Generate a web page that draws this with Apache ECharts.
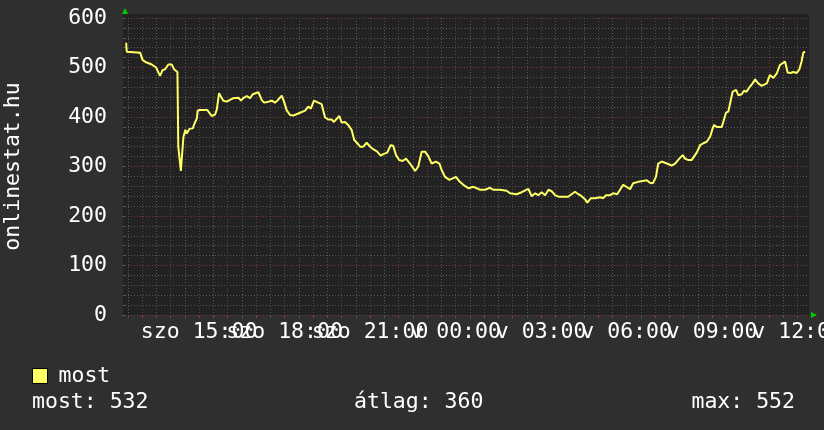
<!DOCTYPE html>
<html>
<head>
<meta charset="utf-8">
<script src="https://cdn.jsdelivr.net/npm/echarts@6/dist/echarts.min.js"></script>
<style>
html,body{margin:0;padding:0;background:#2f2f2f;}
#c{width:824px;height:430px;}
</style>
</head>
<body>
<div id="c"></div>
<script>
// hours since Saturday 00:00
const times = [
12.44,12.46,12.93,13.02,13.16,13.34,13.49,13.63,13.72,13.80,
13.92,14.04,14.13,14.24,14.27,14.33,14.36,14.42,14.45,14.52,
14.56,14.66,14.78,14.82,14.92,14.95,15.03,15.29,15.36,15.44,
15.56,15.62,15.70,15.77,15.85,15.97,16.20,16.38,16.47,16.55,
16.67,16.79,16.88,17.08,17.20,17.28,17.43,17.55,17.66,17.76,
17.90,17.98,18.07,18.19,18.31,18.48,18.54,18.72,18.83,18.92,
19.03,19.18,19.30,19.42,19.53,19.65,19.73,19.92,20.00,20.12,
20.23,20.35,20.44,20.55,20.65,20.76,20.88,21.00,21.11,21.25,
21.37,21.46,21.60,21.72,21.81,21.91,22.02,22.14,22.26,22.40,
22.58,22.69,22.81,22.93,23.04,23.16,23.31,23.43,23.51,23.63,
23.78,23.90,24.01,24.15,24.27,24.45,24.62,24.74,24.86,25.03,
25.21,25.32,25.56,25.79,25.91,26.14,26.32,26.55,26.67,26.79,
26.90,27.02,27.14,27.26,27.37,27.49,27.61,27.78,27.95,28.07,
28.19,28.31,28.42,28.54,28.62,28.75,28.89,29.07,29.18,29.28,
29.42,29.53,29.67,29.77,29.88,30.00,30.12,30.23,30.41,30.47,
30.71,30.82,30.92,31.03,31.11,31.23,31.41,31.58,31.70,31.85,
31.97,32.05,32.17,32.28,32.46,32.58,32.69,32.81,32.93,33.02,
33.07,33.16,33.34,33.49,33.57,33.72,33.84,33.92,34.04,34.12,
34.21,34.31,34.42,34.51,34.62,34.74,34.92,35.03,35.15,35.27,
35.38,35.56,35.65,35.75,35.85,35.97,36.06,36.14,36.20,36.26
];
const most = [
550,532,530,515,510,506,500,483,495,496,
506,506,496,491,340,337,291,291,360,374,
366,376,377,384,397,413,414,414,412,402,
405,415,448,447,433,431,438,439,433,438,
442,438,446,450,434,429,431,433,429,434,
443,431,414,404,403,407,411,413,421,417,
433,429,426,399,395,395,390,402,389,390,
384,374,354,347,340,340,348,340,335,330,
322,325,328,343,342,323,313,311,316,306,
291,300,330,330,321,306,310,306,293,279,
273,276,279,269,263,256,259,256,253,253,
257,253,253,251,246,244,248,255,240,246,
242,248,242,253,250,242,239,239,239,244,
249,244,240,234,227,236,236,238,236,242,
242,246,244,253,263,259,254,266,269,271,
272,267,266,279,306,310,306,302,306,316,
323,316,313,313,328,343,347,350,360,377,
384,380,380,409,411,451,455,444,446,453,
451,460,468,476,468,463,468,485,479,488,
505,512,490,489,491,489,496,512,530,532
];
const xStart = 12.4, xEnd = 36.4;
const labelHoursA = [15,21,27,33];
const labelHoursB = [18,24,30,36];
const labelHours = [15,18,21,24,27,30,33,36];
const labelTexts = ['szo 15:00','szo 18:00','szo 21:00','v 00:00','v 03:00','v 06:00','v 09:00','v 12:00'];
const hourTicks = [13,14,15,16,17,18,19,20,21,22,23,24,25,26,27,28,29,30,31,32,33,34,35,36];
const halfHourTicks = [12.5,13.5,14.5,15.5,16.5,17.5,18.5,19.5,20.5,21.5,22.5,23.5,24.5,25.5,26.5,27.5,28.5,29.5,30.5,31.5,32.5,33.5,34.5,35.5];
const statNames = ['most','átlag','max'];
const statValues = [532,360,552];

const FONT = 'DejaVu Sans Mono';
const FS = 21.5;
const RED = '#763838';
const GRAY = '#585858';
function fmtHour(v){const i=labelHours.indexOf(Math.round(v));return i>=0?labelTexts[i]:'';}
const labelBase = {show:true,color:'#fff',fontFamily:FONT,fontSize:FS,margin:6,hideOverlap:false,
  showMinLabel:true,showMaxLabel:true,formatter:fmtHour};

const chart = echarts.init(document.getElementById('c'), null, {renderer:'canvas'});
chart.setOption({
  backgroundColor:'#2f2f2f',
  animation:false,
  textStyle:{fontFamily:FONT},
  grid:{left:125,right:15,top:18,bottom:115,show:false,containLabel:false,outerBoundsMode:'none'},
  legend:{
    data:['most'], left:32, top:365, padding:0, icon:'rect', itemWidth:15, itemHeight:15,
    itemStyle:{borderColor:'#000',borderWidth:1},
    textStyle:{color:'#fff',fontFamily:FONT,fontSize:FS,padding:[0,0,0,6]}
  },
  xAxis:[
    {type:'value',min:xStart,max:xEnd,position:'bottom',
     axisLine:{show:false},
     axisTick:{show:true,customValues:hourTicks,length:3,lineStyle:{color:'#8a3a3a'}},
     axisLabel:Object.assign({customValues:labelHoursA},labelBase),
     splitLine:{show:true,lineStyle:{color:RED,type:[1,2],width:1}}
    },
    {type:'value',min:xStart,max:xEnd,position:'bottom',
     axisLine:{show:false},
     axisTick:{show:true,customValues:halfHourTicks,length:3,lineStyle:{color:'#555'}},
     axisLabel:Object.assign({customValues:labelHoursB},labelBase),
     splitLine:{show:true,lineStyle:{color:GRAY,type:[1,2],width:1}}
    }
  ],
  yAxis:{type:'value',min:0,max:600,interval:100,
    name:'onlinestat.hu',nameLocation:'middle',nameRotate:90,nameGap:101,
    nameTextStyle:{color:'#fff',fontFamily:FONT,fontSize:FS},
    axisLine:{show:false},
    axisTick:{show:true,length:3,lineStyle:{color:'#555'}},
    minorTick:{show:true,splitNumber:5,length:2,lineStyle:{color:'#555'}},
    axisLabel:{color:'#fff',fontFamily:FONT,fontSize:FS,margin:18},
    splitLine:{show:true,lineStyle:{color:RED,type:[1,2],width:1}},
    minorSplitLine:{show:true,lineStyle:{color:GRAY,type:[1,2],width:1}}
  },
  graphic:[
    {type:'rect',z:-10,silent:true,shape:{x:123,y:14,width:686,height:301},style:{fill:'#222222'}},
    {type:'polygon',shape:{points:[[122,14],[128,14],[125,8]]},style:{fill:'#00cc00'}},
    {type:'polygon',shape:{points:[[811,312],[811,318],[817,315]]},style:{fill:'#00cc00'}},
    {type:'text',left:32,top:391,style:{text:statNames[0]+': '+statValues[0],fill:'#fff',font:FS+'px "'+FONT+'"'}},
    {type:'text',left:354,top:391,style:{text:statNames[1]+': '+statValues[1],fill:'#fff',font:FS+'px "'+FONT+'"'}},
    {type:'text',right:29,top:391,style:{text:statNames[2]+': '+statValues[2],fill:'#fff',font:FS+'px "'+FONT+'"'}}
  ],
  series:[{
    name:'most',type:'line',xAxisIndex:0,showSymbol:false,symbol:'none',
    data:times.map((t,i)=>[t,most[i]]),
    lineStyle:{color:'#ffff66',width:2},
    itemStyle:{color:'#ffff66'}
  }]
});
</script>
</body>
</html>
